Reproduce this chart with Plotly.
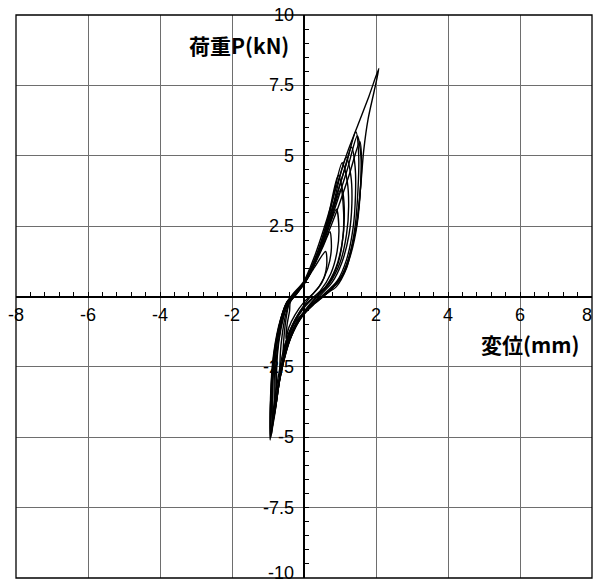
import plotly.graph_objects as go

# ---- axis ticks ----
x_tick_vals = [-8, -6, -4, -2, 2, 4, 6, 8]
x_tick_text = ["-8", "-6", "-4", "-2", "2", "4", "6", "8"]
y_tick_vals = [-10, -7.5, -5, -2.5, 2.5, 5, 7.5, 10]
y_tick_text = ["-10", "-7.5", "-5", "-2.5", "2.5", "5", "7.5", "10"]

x_title = "変位(mm)"
y_title = "荷重P(kN)"

# ---- hysteresis loops (displacement mm, load kN) ----
loop1_x = [-0.4, -0.2, 0.05, 0.3, 0.52, 0.72, 0.76, 0.66, 0.42, 0.15, -0.1, -0.32, -0.5, -0.58, -0.56, -0.5, -0.4]
loop1_y = [-0.2, 0.1, 0.55, 1.15, 1.75, 2.3, 1.7, 1.0, 0.35, -0.05, -0.5, -1.0, -1.6, -2.0, -1.5, -0.8, -0.2]

loop2_x = [-0.4, -0.2, 0.05, 0.32, 0.62, 0.9, 0.97, 0.92, 0.74, 0.45, 0.15, -0.12, -0.35, -0.55, -0.66, -0.66, -0.6, -0.5, -0.4]
loop2_y = [-0.2, 0.1, 0.55, 1.3, 2.2, 3.1, 2.4, 1.6, 0.8, 0.2, -0.15, -0.55, -1.1, -2.0, -2.8, -2.1, -1.3, -0.6, -0.2]

loop3_x = [-0.42, -0.22, 0.05, 0.35, 0.68, 1.02, 1.1, 1.08, 0.95, 0.68, 0.35, 0.05, -0.22, -0.48, -0.64, -0.74, -0.76, -0.7, -0.56, -0.42]
loop3_y = [-0.2, 0.1, 0.55, 1.35, 2.5, 3.8, 3.0, 2.1, 1.2, 0.45, 0.0, -0.45, -0.95, -1.7, -2.6, -3.4, -2.6, -1.6, -0.7, -0.2]

loop4_x = [-0.44, -0.25, 0.02, 0.32, 0.7, 1.06, 1.2, 1.24, 1.18, 1.0, 0.7, 0.4, 0.08, -0.22, -0.48, -0.66, -0.8, -0.83, -0.76, -0.6, -0.44]
loop4_y = [-0.2, 0.1, 0.5, 1.3, 2.9, 4.75, 4.1, 3.2, 2.2, 1.2, 0.45, 0.05, -0.45, -0.95, -1.75, -2.8, -4.0, -3.0, -1.8, -0.75, -0.2]

loop5_x = [-0.45, -0.26, 0.02, 0.36, 0.76, 1.17, 1.3, 1.33, 1.25, 1.05, 0.78, 0.48, 0.12, -0.2, -0.48, -0.68, -0.84, -0.87, -0.79, -0.62, -0.45]
loop5_y = [-0.2, 0.1, 0.5, 1.45, 3.0, 4.95, 4.3, 3.3, 2.2, 1.2, 0.5, 0.08, -0.42, -0.95, -1.8, -3.0, -4.3, -3.1, -1.85, -0.75, -0.2]

loop6_x = [-0.46, -0.27, 0.0, 0.35, 0.8, 1.15, 1.44, 1.52, 1.5, 1.42, 1.25, 1.0, 0.62, 0.2, -0.15, -0.45, -0.68, -0.87, -0.9, -0.81, -0.63, -0.46]
loop6_y = [-0.2, 0.1, 0.5, 1.5, 3.2, 4.6, 5.85, 5.0, 3.8, 2.5, 1.4, 0.6, 0.1, -0.35, -0.9, -1.75, -3.0, -4.6, -3.3, -1.9, -0.75, -0.2]

loop7_x = [-0.47, -0.28, 0.02, 0.45, 0.9, 1.25, 1.55, 1.6, 1.56, 1.45, 1.28, 1.05, 0.72, 0.3, -0.05, -0.38, -0.64, -0.8, -0.9, -0.92, -0.83, -0.64, -0.47]
loop7_y = [-0.2, 0.1, 0.5, 1.6, 3.0, 4.3, 5.5, 4.8, 3.7, 2.5, 1.5, 0.75, 0.2, -0.25, -0.7, -1.5, -2.7, -3.8, -4.9, -3.5, -2.0, -0.8, -0.2]

loop8_x = [-0.48, -0.3, 0.0, 0.3, 0.6, 0.9, 1.2, 1.5, 1.8, 2.08, 1.95, 1.78, 1.66, 1.58, 1.47, 1.32, 1.18, 0.9, 0.5, 0.05, -0.3, -0.55, -0.72, -0.85, -0.94, -0.94, -0.88, -0.78, -0.62, -0.48]
loop8_y = [-0.2, 0.1, 0.55, 1.45, 2.6, 3.9, 5.1, 6.1, 7.1, 8.1, 7.3, 6.3, 5.2, 4.0, 2.6, 1.7, 1.0, 0.35, 0.0, -0.5, -1.0, -1.8, -2.9, -4.0, -5.1, -4.0, -3.0, -1.8, -0.7, -0.2]

loop9_x = [-0.38, -0.2, 0.05, 0.3, 0.6, 0.63, 0.5, 0.25, 0.0, -0.25, -0.42, -0.5, -0.47, -0.4, -0.38]
loop9_y = [-0.2, 0.1, 0.55, 1.05, 1.6, 1.1, 0.5, 0.1, -0.2, -0.65, -1.1, -1.5, -1.0, -0.5, -0.2]

loop10_x = [-0.43, -0.24, 0.03, 0.33, 0.65, 0.95, 1.08, 1.12, 1.06, 0.88, 0.6, 0.3, 0.0, -0.25, -0.5, -0.66, -0.78, -0.8, -0.72, -0.58, -0.43]
loop10_y = [-0.2, 0.1, 0.5, 1.3, 2.7, 4.3, 3.7, 2.8, 1.9, 1.0, 0.35, 0.0, -0.4, -0.9, -1.7, -2.7, -3.7, -2.8, -1.7, -0.7, -0.2]

loop11_x = [-0.46, -0.27, 0.0, 0.38, 0.8, 1.1, 1.32, 1.42, 1.43, 1.36, 1.18, 0.92, 0.55, 0.15, -0.18, -0.46, -0.68, -0.86, -0.89, -0.8, -0.62, -0.46]
loop11_y = [-0.2, 0.1, 0.5, 1.5, 3.1, 4.4, 5.3, 4.6, 3.6, 2.4, 1.3, 0.55, 0.08, -0.35, -0.9, -1.75, -3.0, -4.45, -3.2, -1.9, -0.75, -0.2]

loop12_x = [-0.47, -0.28, 0.0, 0.4, 0.85, 1.2, 1.48, 1.58, 1.57, 1.48, 1.3, 1.08, 0.75, 0.35, 0.0, -0.35, -0.62, -0.8, -0.92, -0.93, -0.84, -0.65, -0.47]
loop12_y = [-0.2, 0.1, 0.5, 1.5, 3.1, 4.5, 5.7, 5.0, 3.9, 2.6, 1.5, 0.75, 0.25, -0.15, -0.6, -1.4, -2.6, -3.8, -5.0, -3.6, -2.0, -0.8, -0.2]

loops = [
    (loop9_x, loop9_y), (loop1_x, loop1_y), (loop2_x, loop2_y), (loop3_x, loop3_y),
    (loop10_x, loop10_y), (loop4_x, loop4_y), (loop5_x, loop5_y), (loop11_x, loop11_y),
    (loop6_x, loop6_y), (loop12_x, loop12_y), (loop7_x, loop7_y), (loop8_x, loop8_y),
]

fig = go.Figure()
for lx, ly in loops:
    fig.add_trace(go.Scatter(
        x=lx, y=ly, mode="lines",
        line=dict(color="black", width=1.4, shape="spline", smoothing=0.8),
        hoverinfo="skip", showlegend=False,
    ))

tick_font = dict(family="Liberation Sans, Arial, sans-serif", size=18, color="black")
title_font = dict(family="Noto Sans CJK JP, sans-serif", size=21, color="black", weight="bold")

x_min, x_max = min(x_tick_vals), max(x_tick_vals)
y_min, y_max = min(y_tick_vals), max(y_tick_vals)

# tick labels drawn at the crossing axes (x labels under y=0, y labels left of x=0);
# the labels at the far right / bottom edge are nudged inward so they stay visible
annotations = []
for v, t in zip(x_tick_vals, x_tick_text):
    at_edge = v == x_max
    annotations.append(dict(text=t, x=v, y=0, xref="x", yref="y",
                            xanchor="right" if at_edge else "center",
                            xshift=2 if at_edge else 0,
                            yanchor="top", yshift=-6, showarrow=False, font=tick_font))
for v, t in zip(y_tick_vals, y_tick_text):
    at_edge = v == y_min
    annotations.append(dict(text=t, x=0, y=v, xref="x", yref="y", xanchor="right",
                            yanchor="bottom" if at_edge else "middle",
                            yshift=-7 if at_edge else 0,
                            xshift=-8, showarrow=False, font=tick_font))
annotations += [
    dict(text=y_title, x=-0.36, y=8.93, xref="x", yref="y",
         xanchor="right", yanchor="middle", showarrow=False, font=title_font),
    dict(text=x_title, x=4.86, y=-1.67, xref="x", yref="y",
         xanchor="left", yanchor="middle", showarrow=False, font=title_font),
]

fig.update_layout(
    width=595, height=587,
    margin=dict(l=16, r=3, t=15, b=9),
    paper_bgcolor="white", plot_bgcolor="white",
    template="none", showlegend=False,
    xaxis=dict(
        range=[x_min, x_max], anchor="free", position=0.5,
        tickmode="array", tickvals=x_tick_vals, showticklabels=False,
        showgrid=True, gridcolor="#6e6e6e", gridwidth=1,
        showline=True, linecolor="black", linewidth=1.6,
        zeroline=False,
        ticks="inside", ticklen=4, tickcolor="black", tickwidth=1,
        minor=dict(tickmode="linear", tick0=0, dtick=0.4, ticks="inside",
                   ticklen=4, tickcolor="black", showgrid=False),
        automargin=False, fixedrange=True,
    ),
    yaxis=dict(
        range=[y_min, y_max], anchor="free", position=0.5,
        tickmode="array", tickvals=y_tick_vals, showticklabels=False,
        showgrid=True, gridcolor="#6e6e6e", gridwidth=1,
        showline=True, linecolor="black", linewidth=1.6,
        zeroline=False,
        ticks="inside", ticklen=4, tickcolor="black", tickwidth=1,
        minor=dict(tickmode="linear", tick0=0, dtick=0.5, ticks="inside",
                   ticklen=4, tickcolor="black", showgrid=False),
        automargin=False, fixedrange=True,
    ),
    shapes=[dict(type="rect", xref="paper", yref="paper", x0=0, x1=1, y0=0, y1=1,
                 line=dict(color="black", width=1.3), layer="above")],
    annotations=annotations,
)

fig.write_html(
    "out.html",
    config={"displayModeBar": False},
    post_script="document.body.style.margin='0';document.body.style.overflow='hidden';",
)
